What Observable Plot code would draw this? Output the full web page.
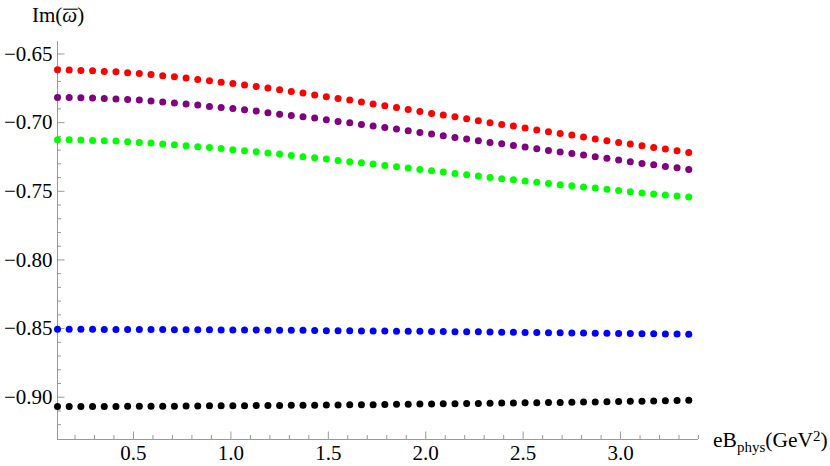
<!DOCTYPE html>
<html><head><meta charset="utf-8">
<script src="https://cdn.jsdelivr.net/npm/d3@7"></script>
<script src="https://cdn.jsdelivr.net/npm/@observablehq/plot@0.6"></script>
<style>body{margin:0;background:#fff}</style>
</head><body><div id="chart"></div>
<script>
const xValues = [0.11,0.17,0.23,0.29,0.35,0.41,0.47,0.53,0.59,0.65,0.71,0.77,0.83,0.89,0.95,1.01,1.07,1.13,1.19,1.25,1.31,1.37,1.43,1.49,1.55,1.61,1.67,1.73,1.79,1.85,1.91,1.97,2.03,2.09,2.15,2.21,2.27,2.33,2.39,2.45,2.51,2.57,2.63,2.69,2.75,2.81,2.87,2.93,2.99,3.05,3.11,3.17,3.23,3.29,3.35];

const redValues = [-0.6615,-0.6617,-0.6620,-0.6622,-0.6627,-0.6630,-0.6637,-0.6642,-0.6649,-0.6659,
-0.6666,-0.6675,-0.6686,-0.6695,-0.6705,-0.6715,-0.6726,-0.6737,-0.6748,-0.6761,
-0.6773,-0.6785,-0.6799,-0.6812,-0.6824,-0.6836,-0.6850,-0.6865,-0.6877,-0.6889,
-0.6904,-0.6919,-0.6933,-0.6945,-0.6957,-0.6972,-0.6986,-0.7001,-0.7013,-0.7025,
-0.7039,-0.7054,-0.7066,-0.7079,-0.7090,-0.7105,-0.7120,-0.7132,-0.7144,-0.7156,
-0.7168,-0.7181,-0.7192,-0.7205,-0.7217];

const purpleValues = [-0.6817,-0.6817,-0.6819,-0.6821,-0.6824,-0.6828,-0.6831,-0.6836,-0.6843,-0.6850,
-0.6857,-0.6865,-0.6872,-0.6882,-0.6889,-0.6897,-0.6906,-0.6916,-0.6928,-0.6938,
-0.6948,-0.6957,-0.6967,-0.6979,-0.6991,-0.7001,-0.7013,-0.7024,-0.7035,-0.7047,
-0.7059,-0.7071,-0.7083,-0.7096,-0.7108,-0.7120,-0.7132,-0.7144,-0.7154,-0.7166,
-0.7178,-0.7190,-0.7203,-0.7214,-0.7224,-0.7236,-0.7248,-0.7260,-0.7272,-0.7285,
-0.7297,-0.7307,-0.7319,-0.7328,-0.7341];

const greenValues = [-0.7125,-0.7125,-0.7127,-0.7130,-0.7132,-0.7134,-0.7139,-0.7144,-0.7149,-0.7156,
-0.7161,-0.7168,-0.7176,-0.7181,-0.7188,-0.7197,-0.7205,-0.7212,-0.7221,-0.7229,
-0.7239,-0.7248,-0.7256,-0.7265,-0.7275,-0.7285,-0.7292,-0.7302,-0.7312,-0.7321,
-0.7331,-0.7341,-0.7350,-0.7360,-0.7370,-0.7379,-0.7389,-0.7399,-0.7409,-0.7416,
-0.7425,-0.7435,-0.7443,-0.7452,-0.7460,-0.7469,-0.7476,-0.7486,-0.7494,-0.7503,
-0.7513,-0.7520,-0.7527,-0.7535,-0.7542];

const blueValues = [-0.8505,-0.8505,-0.8505,-0.8505,-0.8506,-0.8506,-0.8506,-0.8507,-0.8507,-0.8507,
-0.8508,-0.8508,-0.8509,-0.8509,-0.8510,-0.8510,-0.8511,-0.8511,-0.8512,-0.8512,
-0.8513,-0.8513,-0.8514,-0.8515,-0.8515,-0.8516,-0.8517,-0.8517,-0.8518,-0.8519,
-0.8520,-0.8520,-0.8521,-0.8522,-0.8523,-0.8524,-0.8524,-0.8525,-0.8526,-0.8527,
-0.8528,-0.8529,-0.8530,-0.8531,-0.8532,-0.8533,-0.8534,-0.8534,-0.8535,-0.8536,
-0.8537,-0.8538,-0.8539,-0.8540,-0.8541];

const blackValues = [-0.9068,-0.9068,-0.9068,-0.9067,-0.9067,-0.9067,-0.9066,-0.9066,-0.9066,-0.9065,
-0.9065,-0.9064,-0.9064,-0.9063,-0.9063,-0.9062,-0.9062,-0.9061,-0.9060,-0.9060,
-0.9059,-0.9058,-0.9058,-0.9057,-0.9056,-0.9055,-0.9055,-0.9054,-0.9053,-0.9052,
-0.9051,-0.9050,-0.9049,-0.9048,-0.9047,-0.9046,-0.9045,-0.9044,-0.9043,-0.9042,
-0.9041,-0.9040,-0.9039,-0.9038,-0.9037,-0.9035,-0.9034,-0.9033,-0.9032,-0.9030,
-0.9029,-0.9027,-0.9026,-0.9024,-0.9022];

const seriesValues = [redValues, purpleValues, greenValues, blueValues, blackValues];
const seriesColors = ["#ff0000", "#800080", "#00ff00", "#0000ff", "#000000"];

const yMajorTicks = [-0.65, -0.70, -0.75, -0.80, -0.85, -0.90];
const yMinorTicks = [-0.66,-0.67,-0.68,-0.69,-0.71,-0.72,-0.73,-0.74,-0.76,-0.77,-0.78,-0.79,-0.81,-0.82,-0.83,-0.84,-0.86,-0.87,-0.88,-0.89,-0.91,-0.92];
const xMajorTicks = [0.5, 1.0, 1.5, 2.0, 2.5, 3.0];
const xMinorTicks = [0.2,0.3,0.4,0.6,0.7,0.8,0.9,1.1,1.2,1.3,1.4,1.6,1.7,1.8,1.9,2.1,2.2,2.3,2.4,2.6,2.7,2.8,2.9,3.1,3.2,3.3,3.4];
const xDomain = [0.11, 3.40];
const yDomain = [-0.9308, -0.6409];

const axisGray = "#999999";
const serif = "Liberation Serif";

const dotMarks = seriesValues.map((vals, k) => {
  const rows = xValues.map((x, i) => ({x, y: vals[i]}));
  return Plot.dot(rows, {x: "x", y: "y", r: 3.5, fill: seriesColors[k], stroke: null});
});

const chart = Plot.plot({
  width: 830, height: 466,
  marginLeft: 57, marginRight: 132, marginTop: 41, marginBottom: 27,
  style: {fontFamily: serif, fontSize: "21px", background: "white", color: "black"},
  x: {domain: xDomain, label: null},
  y: {domain: yDomain, label: null},
  marks: [
    Plot.axisY(yMinorTicks, {tickSize: -4, stroke: axisGray, fill: "none", label: null}),
    Plot.axisY(yMajorTicks, {tickSize: -7.5, stroke: axisGray, fill: "none", label: null}),
    Plot.axisY(yMajorTicks, {tickSize: 0, tickPadding: 5, tickFormat: d3.format(".2f"), fill: "black", fontFamily: serif, fontSize: 21, label: null}),
    Plot.axisX(xMinorTicks, {tickSize: -4, stroke: axisGray, fill: "none", label: null}),
    Plot.axisX(xMajorTicks, {tickSize: -7.5, stroke: axisGray, fill: "none", label: null}),
    Plot.axisX(xMajorTicks, {tickSize: 0, tickPadding: 6, tickFormat: d3.format(".1f"), fill: "black", fontFamily: serif, fontSize: 21, label: null}),
    Plot.ruleX([xDomain[0]], {stroke: axisGray}),
    Plot.ruleY([yDomain[0]], {stroke: axisGray}),
    ...dotMarks
  ]
});

document.getElementById("chart").appendChild(chart);

const svg = d3.select(chart);
svg.selectAll("text").style("font-family", serif).style("font-variant", "normal");

const title = svg.append("text").attr("x", 32).attr("y", 21.5).attr("fill", "black")
  .attr("text-anchor", "start").style("font-family", serif).attr("font-size", 21);
title.append("tspan").text("Im(");
title.append("tspan").attr("font-style", "italic").text("ω");
title.append("tspan").text(")");
try {
  const ext = title.node().getExtentOfChar(3);
  svg.append("line")
    .attr("x1", ext.x + 1).attr("x2", ext.x + ext.width + 0.5)
    .attr("y1", 9.2).attr("y2", 9.2)
    .attr("stroke", "black").attr("stroke-width", 1.1);
} catch (e) {}

const xl = svg.append("text").attr("x", 713).attr("y", 447).attr("fill", "black")
  .attr("text-anchor", "start").style("font-family", serif).attr("font-size", 21.5);
xl.append("tspan").text("eB");
xl.append("tspan").attr("font-size", 15).attr("dy", 4.5).text("phys");
xl.append("tspan").attr("dy", -4.5).text("(GeV");
xl.append("tspan").attr("font-size", 15).attr("dy", -6.5).text("2");
xl.append("tspan").attr("dy", 6.5).text(")");
</script>
</body></html>
